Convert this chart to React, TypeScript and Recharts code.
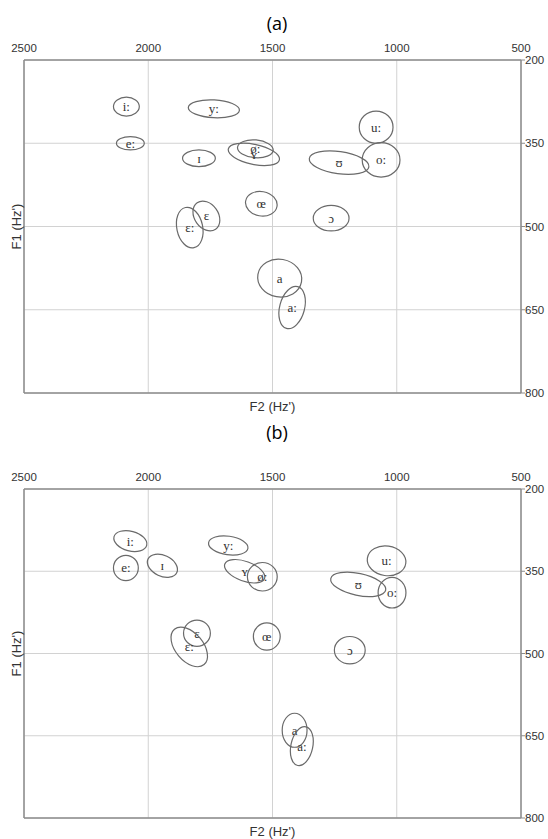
import React from 'react';
import { ScatterChart, Scatter, XAxis, YAxis, CartesianGrid } from 'recharts';

// ---------- data ----------
const F2_TICKS = [2500, 2000, 1500, 1000, 500];
const F1_TICKS = [200, 350, 500, 650, 800];

// panel (a)
const vowelsA = ['i:', 'e:', 'y:', 'ɪ', 'ø:', 'ʏ', 'œ', 'ɛ', 'ɛ:', 'u:', 'o:', 'ʊ', 'ɔ', 'a', 'a:'];
const f2A = [2088, 2072, 1736, 1796, 1569, 1575, 1545, 1766, 1833, 1083, 1063, 1232, 1264, 1471, 1421];
const f1A = [284, 350, 288, 377, 360, 370, 459, 481, 502, 321, 380, 385, 485, 593, 646];
const sdF2A = [52, 56, 103, 66, 72, 105, 64, 48, 52, 68, 76, 121, 72, 89, 50];
const sdF1A = [17, 12, 16, 15, 16, 18, 22, 29, 37, 29, 31, 20, 23, 34, 39];
const tiltA = [0, 0, 3, 0, 5, 12, 10, -35, -12, 0, 0, 8, 0, 10, 15];

// panel (b)
const vowelsB = ['i:', 'e:', 'ɪ', 'y:', 'ʏ', 'ø:', 'ɛ', 'ɛ:', 'œ', 'u:', 'o:', 'ʊ', 'ɔ', 'a', 'a:'];
const f2B = [2072, 2090, 1943, 1678, 1612, 1541, 1804, 1835, 1523, 1041, 1019, 1155, 1189, 1411, 1382];
const f1B = [295, 344, 340, 303, 350, 360, 463, 488, 469, 331, 389, 374, 494, 640, 669];
const sdF2B = [68, 50, 64, 80, 85, 60, 54, 56, 54, 78, 56, 113, 62, 50, 44];
const sdF1B = [18, 23, 19, 17, 18, 26, 24, 42, 25, 27, 28, 20, 25, 31, 36];
const tiltB = [15, 0, 25, 8, 20, 0, 0, -40, 0, 8, 0, 12, 0, 0, 12];

const build = (v: string[], f2: number[], f1: number[], s2: number[], s1: number[], t: number[]) =>
  v.map((vowel, i) => ({ vowel, f2: f2[i], f1: f1[i], sdF2: s2[i], sdF1: s1[i], tilt: t[i] }));

const dataA = build(vowelsA, f2A, f1A, sdF2A, sdF1A, tiltA);
const dataB = build(vowelsB, f2B, f1B, sdF2B, sdF1B, tiltB);

// ---------- layout ----------
const W = 548;
const M_LEFT = 8;
const LEFT_W = 16;
const RIGHT_W = 27;
const TOP_H = 30;
const BOTTOM_H = 20;
const PLOT_W = W - M_LEFT - LEFT_W - RIGHT_W;
const AXIS_COLOR = '#8c8c8c';
const SANS = "'Liberation Sans', Arial, sans-serif";
const SERIF = "'Liberation Serif', 'DejaVu Serif', serif";

const makeShape = (kx: number, ky: number) => (props: any) => {
  const { cx, cy, payload } = props;
  if (cx == null || cy == null || !payload) return <g />;
  const rx = payload.sdF2 * kx;
  const ry = payload.sdF1 * ky;
  return (
    <g>
      <ellipse
        cx={cx}
        cy={cy}
        rx={rx}
        ry={ry}
        transform={`rotate(${payload.tilt} ${cx} ${cy})`}
        fill="none"
        stroke="#6a6a6a"
        strokeWidth={1.2}
      />
      <text
        x={cx}
        y={cy}
        textAnchor="middle"
        dominantBaseline="central"
        fontFamily={SERIF}
        fontSize={13}
        fill="#333"
      >
        {payload.vowel}
      </text>
    </g>
  );
};

function Panel({ data, height, marginTop, marginBottom }: { data: any[]; height: number; marginTop: number; marginBottom: number }) {
  const plotH = height - marginTop - TOP_H - BOTTOM_H - marginBottom;
  const kx = PLOT_W / 2000;
  const ky = plotH / 600;
  return (
    <ScatterChart width={W} height={height} margin={{ top: marginTop, right: 0, bottom: marginBottom, left: M_LEFT }}>
      <CartesianGrid stroke="#d2d2d2" strokeWidth={1} />
      <XAxis
        orientation="top"
        type="number"
        dataKey="f2"
        domain={[500, 2500]}
        reversed
        ticks={F2_TICKS}
        interval={0}
        height={TOP_H}
        tickSize={0}
        tickMargin={8}
        tickLine={false}
        axisLine={{ stroke: AXIS_COLOR, strokeWidth: 1.5 }}
        tick={{ fontSize: 11.5, fill: '#333', fontFamily: SANS }}
      />
      <XAxis
        xAxisId="b"
        orientation="bottom"
        type="number"
        dataKey="f2"
        domain={[500, 2500]}
        reversed
        ticks={F2_TICKS}
        height={BOTTOM_H}
        tick={false}
        tickLine={false}
        axisLine={{ stroke: AXIS_COLOR, strokeWidth: 1.5 }}
        label={{ value: "F2 (Hz')", position: 'insideTop', offset: 9, fontSize: 13, fill: '#333', fontFamily: SANS }}
      />
      <YAxis
        orientation="right"
        type="number"
        dataKey="f1"
        domain={[200, 800]}
        reversed
        ticks={F1_TICKS}
        interval={0}
        width={RIGHT_W}
        tickSize={4}
        tickMargin={0}
        tickLine={{ stroke: AXIS_COLOR }}
        axisLine={{ stroke: AXIS_COLOR, strokeWidth: 1.5 }}
        tick={{ fontSize: 11.5, fill: '#333', fontFamily: SANS }}
      />
      <YAxis
        yAxisId="l"
        orientation="left"
        type="number"
        dataKey="f1"
        domain={[200, 800]}
        reversed
        ticks={F1_TICKS}
        width={LEFT_W}
        tick={false}
        tickLine={false}
        axisLine={{ stroke: AXIS_COLOR, strokeWidth: 1.5 }}
        label={{ value: "F1 (Hz')", angle: -90, position: 'center', fontSize: 13, fill: '#333', fontFamily: SANS }}
      />
      <Scatter data={data} shape={makeShape(kx, ky)} isAnimationActive={false} />
    </ScatterChart>
  );
}

const titleStyle: React.CSSProperties = {
  position: 'absolute',
  left: 0,
  width: 554,
  textAlign: 'center',
  fontFamily: "'Open Sans', 'Noto Sans', sans-serif",
  fontSize: 18,
  lineHeight: '24px',
  color: '#000',
};

export default function App() {
  return (
    <div style={{ position: 'absolute', left: 0, top: 0, width: W, height: 839, background: '#fff', overflow: 'hidden' }}>
      <div style={{ ...titleStyle, top: 11 }}>(a)</div>
      <div style={{ position: 'absolute', left: 0, top: 0 }}>
        <Panel data={dataA} height={420} marginTop={30} marginBottom={7} />
      </div>
      <div style={{ ...titleStyle, top: 420 }}>(b)</div>
      <div style={{ position: 'absolute', left: 0, top: 440 }}>
        <Panel data={dataB} height={399} marginTop={19} marginBottom={1} />
      </div>
    </div>
  );
}
